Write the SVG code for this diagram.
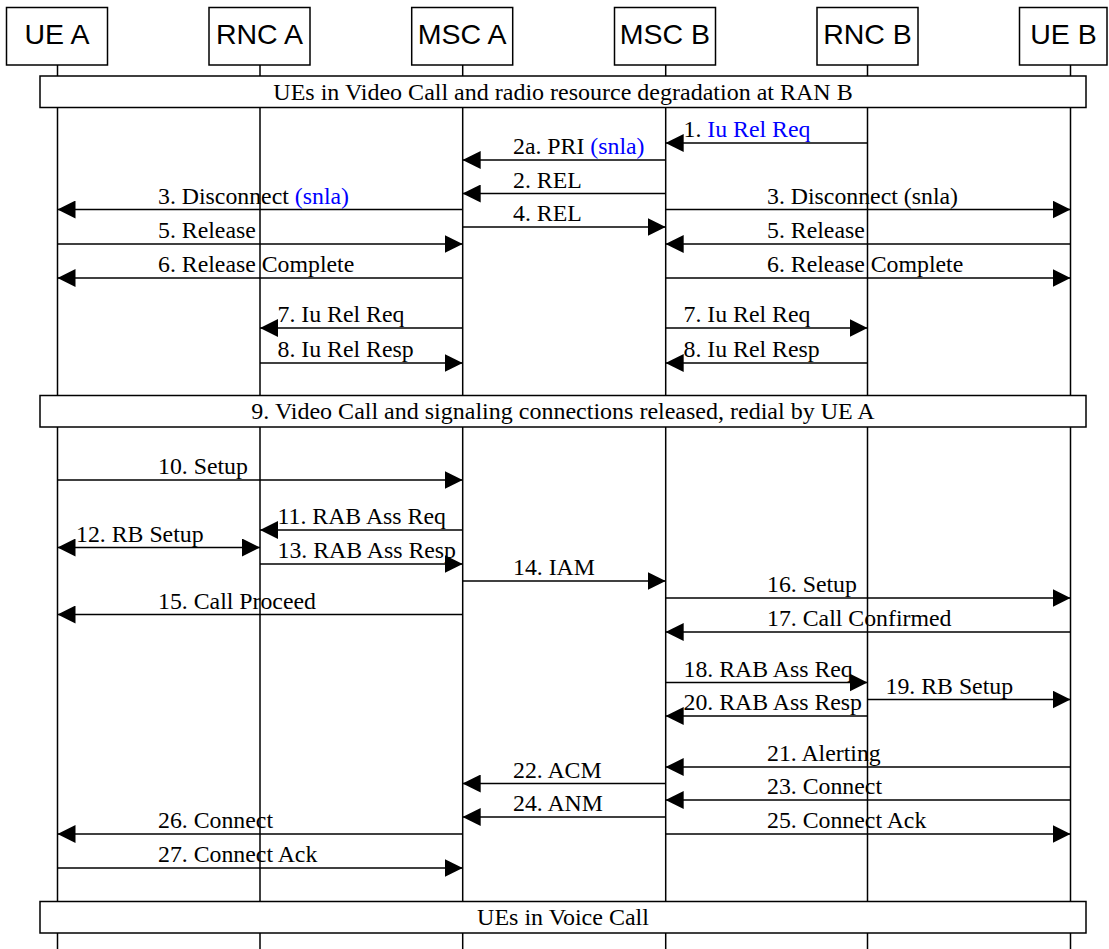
<svg xmlns="http://www.w3.org/2000/svg" width="1109" height="949" viewBox="0 0 1109 949">
<defs>
<marker id="ah" markerUnits="userSpaceOnUse" viewBox="0 0 18 18" refX="18" refY="9" markerWidth="18" markerHeight="18" orient="auto-start-reverse">
<path d="M0,0 L18,9 L0,18 Z" fill="#000"/>
</marker>
<style>
.box{fill:#fff;stroke:#000;stroke-width:1.5}
.life{stroke:#000;stroke-width:1.5}
.hdr{font-family:"Liberation Sans",Arial,sans-serif;font-size:28.5px;text-anchor:middle;fill:#000}
.ban{font-family:"Liberation Serif","Times New Roman",serif;font-size:24px;text-anchor:middle;fill:#000}
.msg line{stroke:#000;stroke-width:1.5;marker-end:url(#ah)}
.msg text{font-family:"Liberation Serif","Times New Roman",serif;font-size:23.8px;fill:#000}
.bl{fill:#0000ff}
</style>
</defs>
<rect width="1109" height="949" fill="#fff"/>
<g id="ueA"><line class="life" x1="57.5" y1="65" x2="57.5" y2="949"/><rect class="box" x="6.5" y="7.5" width="101" height="57.5"/><text class="hdr" x="57" y="44">UE A</text></g>
<g id="rncA"><line class="life" x1="260" y1="65" x2="260" y2="949"/><rect class="box" x="209" y="7.5" width="101" height="57.5"/><text class="hdr" x="259.5" y="44">RNC A</text></g>
<g id="mscA"><line class="life" x1="462.7" y1="65" x2="462.7" y2="949"/><rect class="box" x="411.7" y="7.5" width="101" height="57.5"/><text class="hdr" x="462.2" y="44">MSC A</text></g>
<g id="mscB"><line class="life" x1="665.7" y1="65" x2="665.7" y2="949"/><rect class="box" x="614.5" y="7.5" width="101" height="57.5"/><text class="hdr" x="665" y="44">MSC B</text></g>
<g id="rncB"><line class="life" x1="867.5" y1="65" x2="867.5" y2="949"/><rect class="box" x="817" y="7.5" width="101" height="57.5"/><text class="hdr" x="867.5" y="44">RNC B</text></g>
<g id="ueB"><line class="life" x1="1070.5" y1="65" x2="1070.5" y2="949"/><rect class="box" x="1019.5" y="7.5" width="87.5" height="57.5"/><text class="hdr" x="1063.5" y="44">UE B</text></g>
<g id="note1"><rect class="box" x="40" y="76" width="1046" height="31.5"/><text class="ban" x="563" y="99.5">UEs in Video Call and radio resource degradation at RAN B</text></g>
<g id="note2"><rect class="box" x="40" y="395.5" width="1046" height="31.5"/><text class="ban" x="563" y="419">9. Video Call and signaling connections released, redial by UE A</text></g>
<g id="note3"><rect class="box" x="40" y="901.5" width="1046" height="31.5"/><text class="ban" x="563" y="925">UEs in Voice Call</text></g>
<g id="connectors" class="msg">
<line x1="867.5" y1="143" x2="665.7" y2="143"/><text x="683.5" y="137">1. <tspan class="bl">Iu Rel Req</tspan></text>
<line x1="665.7" y1="160" x2="462.7" y2="160"/><text x="513" y="154">2a. PRI <tspan class="bl">(snla)</tspan></text>
<line x1="665.7" y1="193.5" x2="462.7" y2="193.5"/><text x="513" y="187.5">2. REL</text>
<line x1="462.7" y1="209.5" x2="57.5" y2="209.5"/><text x="158" y="203.5">3. Disconnect <tspan class="bl">(snla)</tspan></text>
<line x1="665.7" y1="209.5" x2="1070.5" y2="209.5"/><text x="767" y="203.5">3. Disconnect (snla)</text>
<line x1="462.7" y1="227" x2="665.7" y2="227"/><text x="513" y="221">4. REL</text>
<line x1="57.5" y1="244" x2="462.7" y2="244"/><text x="158" y="238">5. Release</text>
<line x1="1070.5" y1="244" x2="665.7" y2="244"/><text x="767" y="238">5. Release</text>
<line x1="462.7" y1="278" x2="57.5" y2="278"/><text x="158" y="272">6. Release Complete</text>
<line x1="665.7" y1="278" x2="1070.5" y2="278"/><text x="767" y="272">6. Release Complete</text>
<line x1="462.7" y1="328" x2="260" y2="328"/><text x="277.5" y="322">7. Iu Rel Req</text>
<line x1="665.7" y1="328" x2="867.5" y2="328"/><text x="683.5" y="322">7. Iu Rel Req</text>
<line x1="260" y1="363" x2="462.7" y2="363"/><text x="277.5" y="357">8. Iu Rel Resp</text>
<line x1="867.5" y1="363" x2="665.7" y2="363"/><text x="683.5" y="357">8. Iu Rel Resp</text>
<line x1="57.5" y1="480" x2="462.7" y2="480"/><text x="158" y="474">10. Setup</text>
<line x1="462.7" y1="530" x2="260" y2="530"/><text x="277.5" y="524">11. RAB Ass Req</text>
<line x1="57.5" y1="547.5" x2="260" y2="547.5" marker-start="url(#ah)"/><text x="76" y="541.5">12. RB Setup</text>
<line x1="260" y1="564" x2="462.7" y2="564"/><text x="277.5" y="558">13. RAB Ass Resp</text>
<line x1="462.7" y1="581" x2="665.7" y2="581"/><text x="513" y="575">14. IAM</text>
<line x1="665.7" y1="598" x2="1070.5" y2="598"/><text x="767" y="592">16. Setup</text>
<line x1="462.7" y1="614.5" x2="57.5" y2="614.5"/><text x="158" y="608.5">15. Call Proceed</text>
<line x1="1070.5" y1="632" x2="665.7" y2="632"/><text x="767" y="626">17. Call Confirmed</text>
<line x1="665.7" y1="682.5" x2="867.5" y2="682.5"/><text x="683.5" y="676.5">18. RAB Ass Req</text>
<line x1="867.5" y1="699.5" x2="1070.5" y2="699.5"/><text x="885.5" y="693.5">19. RB Setup</text>
<line x1="867.5" y1="716" x2="665.7" y2="716"/><text x="683.5" y="710">20. RAB Ass Resp</text>
<line x1="1070.5" y1="767" x2="665.7" y2="767"/><text x="767" y="761">21. Alerting</text>
<line x1="665.7" y1="783.5" x2="462.7" y2="783.5"/><text x="513" y="777.5">22. ACM</text>
<line x1="1070.5" y1="800" x2="665.7" y2="800"/><text x="767" y="794">23. Connect</text>
<line x1="665.7" y1="817" x2="462.7" y2="817"/><text x="513" y="811">24. ANM</text>
<line x1="665.7" y1="834" x2="1070.5" y2="834"/><text x="767" y="828">25. Connect Ack</text>
<line x1="462.7" y1="834" x2="57.5" y2="834"/><text x="158" y="828">26. Connect</text>
<line x1="57.5" y1="868" x2="462.7" y2="868"/><text x="158" y="862">27. Connect Ack</text>
</g>
</svg>
